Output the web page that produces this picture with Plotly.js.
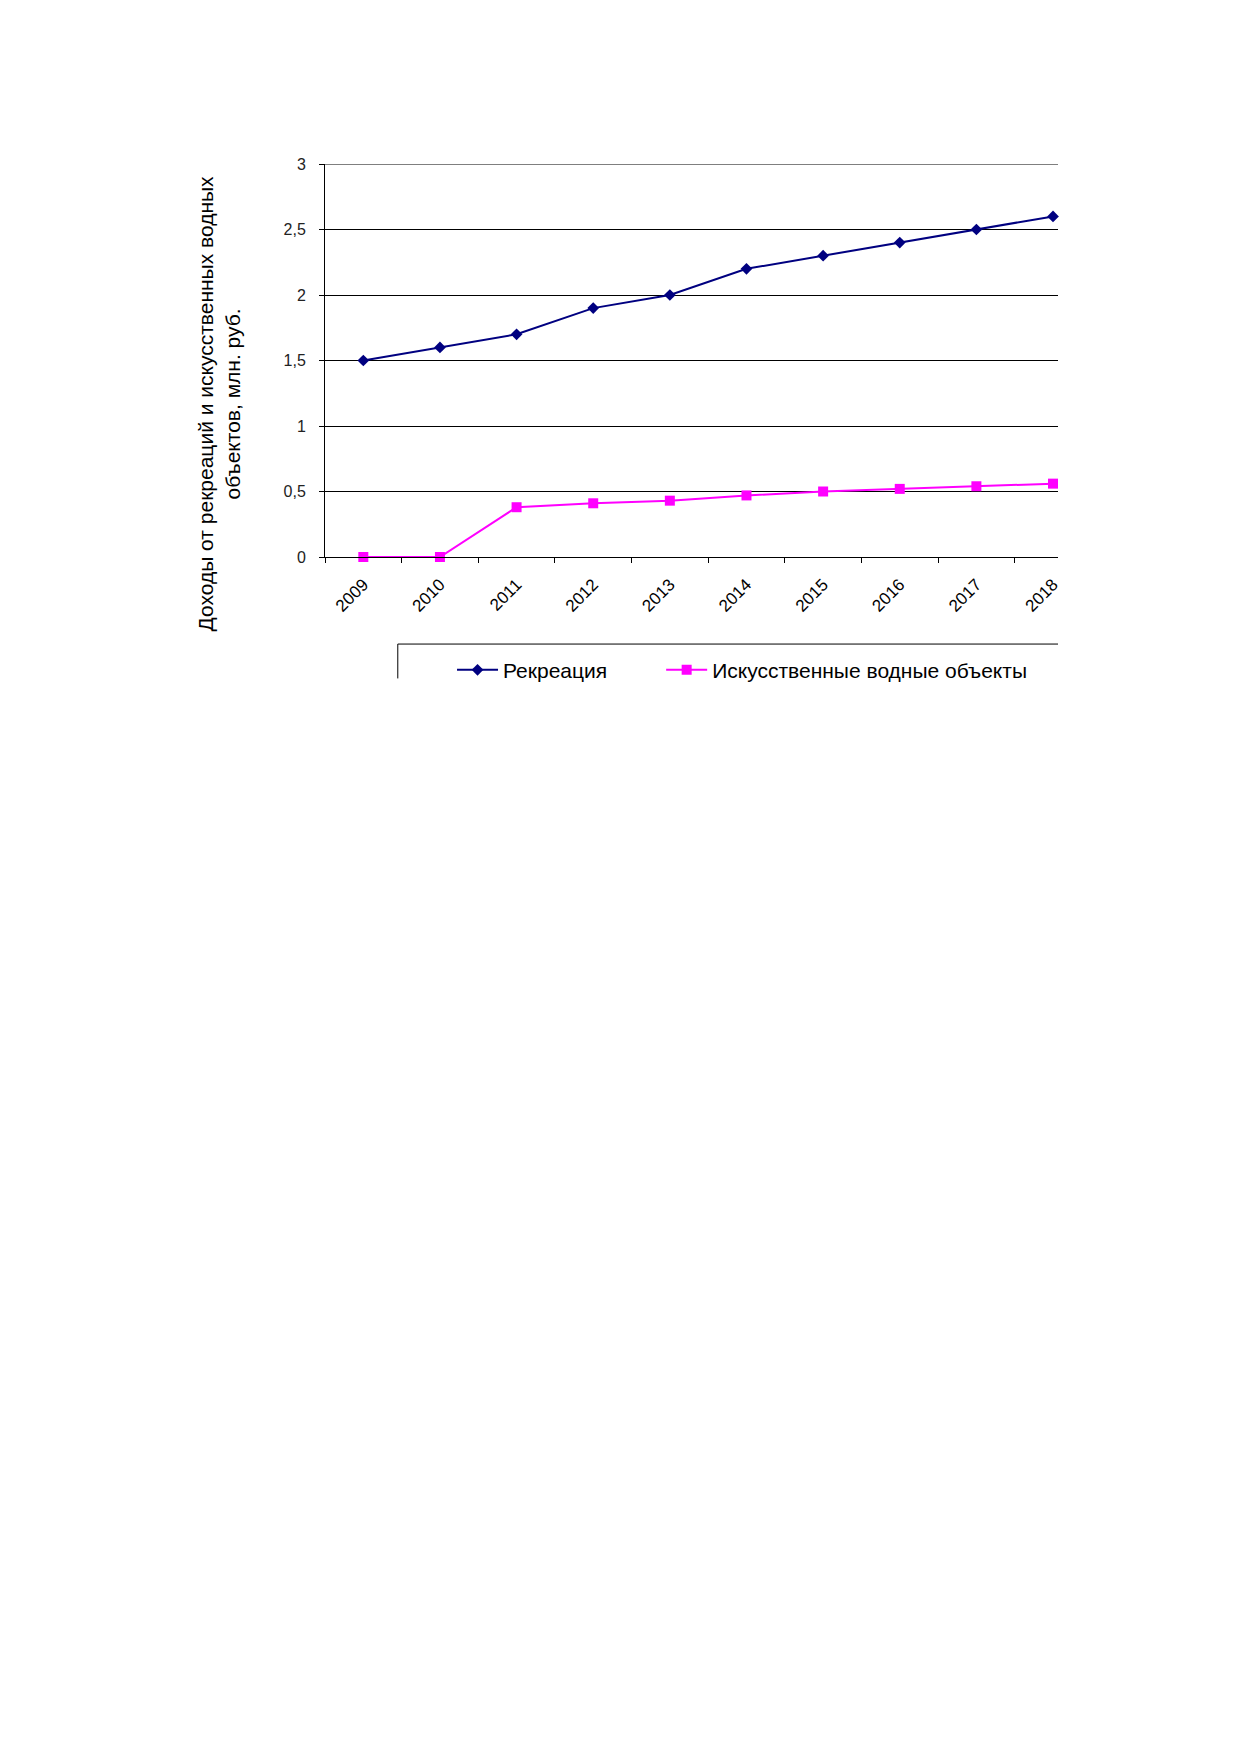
<!DOCTYPE html>
<html>
<head>
<meta charset="utf-8">
<script src="https://cdn.plot.ly/plotly-3.0.1.min.js"></script>
<style>
  body { margin: 0; background: #fff; }
  #chart { width: 1239px; height: 1752px; }
</style>
</head>
<body>
<div id="chart"></div>
<script>
const years = ['2009', '2010', '2011', '2012', '2013', '2014', '2015', '2016', '2017', '2018'];
const recreation = [1.5, 1.6, 1.7, 1.9, 2.0, 2.2, 2.3, 2.4, 2.5, 2.6];
const waterBodies = [0, 0, 0.38, 0.41, 0.43, 0.47, 0.50, 0.52, 0.54, 0.56];
const yTicks = [0, 0.5, 1, 1.5, 2, 2.5, 3];
const yTickText = ['0', '0,5', '1', '1,5', '2', '2,5', '3'];

const font = 'Arial, "Liberation Sans", sans-serif';

const traces = [
  {
    type: 'scatter',
    mode: 'lines+markers',
    name: 'Рекреация',
    x: years,
    y: recreation,
    cliponaxis: false,
    line: { color: '#000080', width: 2 },
    marker: { symbol: 'diamond', size: 9, color: '#000080' },
    legend: 'legend'
  },
  {
    type: 'scatter',
    mode: 'lines+markers',
    name: 'Искусственные водные объекты',
    x: years,
    y: waterBodies,
    cliponaxis: false,
    line: { color: '#ff00ff', width: 2 },
    marker: { symbol: 'square', size: 10, color: '#ff00ff' },
    legend: 'legend2'
  }
];

// one legend per series so the gap between entries matches the source
const legendBase = {
  orientation: 'h',
  xanchor: 'left',
  y: -0.288, yanchor: 'middle',
  itemwidth: 41,
  font: { family: font, size: 21, color: '#000' },
  bgcolor: 'rgba(0,0,0,0)'
};

const layout = {
  width: 1239,
  height: 1752,
  margin: { l: 325, r: 181, t: 164, b: 1195 },
  paper_bgcolor: '#fff',
  plot_bgcolor: '#fff',
  font: { family: font, size: 16, color: '#000' },
  showlegend: true,
  legend: Object.assign({}, legendBase, { x: 0.1733 }),
  legend2: Object.assign({}, legendBase, { x: 0.4586 }),
  xaxis: {
    type: 'category',
    range: [-0.5, 9.065],
    tickson: 'boundaries',
    ticks: 'outside',
    ticklen: 5,
    tickcolor: '#000',
    tickangle: -45,
    ticklabelstandoff: 10,
    showgrid: false,
    showline: true,
    linecolor: '#000',
    linewidth: 1,
    zeroline: false,
    tickfont: { family: font, size: 17, color: '#000' }
  },
  yaxis: {
    range: [0, 3],
    tickvals: yTicks,
    ticktext: yTickText,
    ticks: 'outside',
    ticklen: 5,
    tickcolor: '#000',
    ticklabelstandoff: 10,
    showgrid: true,
    gridcolor: '#000',
    gridwidth: 1,
    showline: true,
    linecolor: '#000',
    linewidth: 1,
    zeroline: false,
    tickfont: { family: font, size: 16, color: '#222' }
  },
  annotations: [
    {
      xref: 'paper', yref: 'paper',
      x: -0.145, y: 0.39,
      xanchor: 'center', yanchor: 'middle',
      textangle: -90,
      showarrow: false,
      text: 'Доходы от рекреаций и искусственных водных<br>объектов, млн. руб.',
      font: { family: font, size: 21, color: '#000' }
    }
  ],
  shapes: [
    // top gridline at 3 (range edge)
    { type: 'line', xref: 'paper', yref: 'y', x0: 0, x1: 1, y0: 3, y1: 3,
      line: { color: '#000', width: 1 } },
    // legend frame, cut off at the right and bottom like the source
    { type: 'line', xref: 'paper', yref: 'paper', x0: 0.0993, x1: 1, y0: -0.2215, y1: -0.2215,
      line: { color: '#000', width: 1 } },
    { type: 'line', xref: 'paper', yref: 'paper', x0: 0.0993, x1: 0.0993, y0: -0.2215, y1: -0.309,
      line: { color: '#000', width: 1 } }
  ]
};

Plotly.newPlot('chart', traces, layout, { staticPlot: true });
</script>
</body>
</html>
